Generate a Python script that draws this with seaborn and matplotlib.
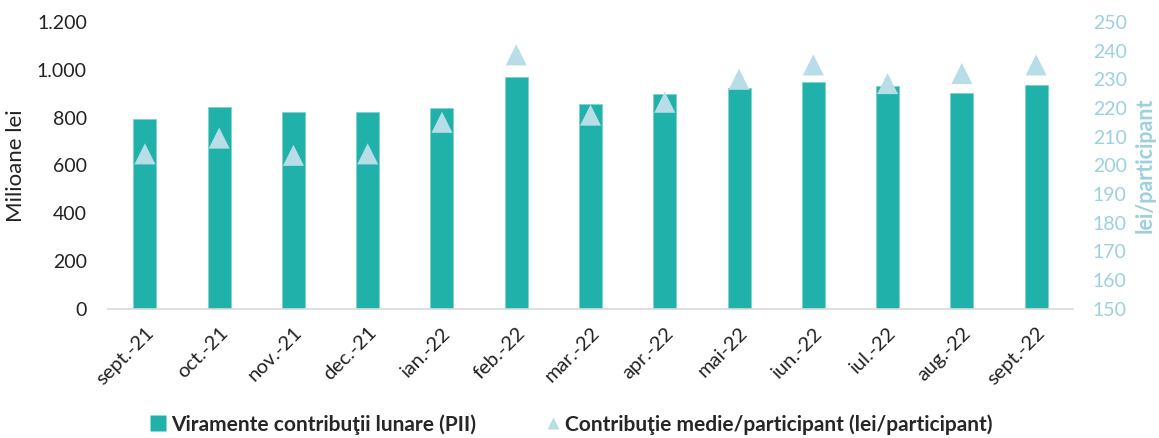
import numpy as np
import pandas as pd
import seaborn as sns
import matplotlib.pyplot as plt
from matplotlib.lines import Line2D
from matplotlib.ticker import FuncFormatter, FixedLocator

months = ["sept.-21", "oct.-21", "nov.-21", "dec.-21", "ian.-22", "feb.-22", "mar.-22",
          "apr.-22", "mai-22", "iun.-22", "iul.-22", "aug.-22", "sept.-22"]
viramente = [793, 843, 824, 825, 840, 970, 856, 899, 925, 948, 931, 903, 938]
contributie = [204, 209.5, 203.5, 204, 215, 238.5, 217.5, 222, 230, 235, 228.5, 232, 235]

BAR = "#20B2AA"
TRI = "#B7DEE8"
RIGHT = "#9DD0DE"

sns.set_theme(style="white")
plt.rcParams["font.family"] = ["Lato", "DejaVu Sans"]

df = pd.DataFrame({"luna": months, "viramente": viramente, "contributie": contributie})

fig, ax = plt.subplots(figsize=(11.59, 4.38), dpi=100)
fig.subplots_adjust(left=0.093, right=0.926, top=0.95, bottom=0.295)

sns.barplot(data=df, x="luna", y="viramente", color=BAR, width=0.31, ax=ax,
            edgecolor="#7FD3CE", linewidth=0.6, saturation=1)
ax.set_ylim(0, 1200)
ax.set_xlim(-0.5, len(months) - 0.5)
ax.set_yticks(range(0, 1201, 200))
ax.yaxis.set_major_formatter(FuncFormatter(lambda v, p: f"{int(v):,}".replace(",", ".")))
ax.set_ylabel("Milioane lei", fontsize=16, color="#222222", labelpad=8)
ax.set_xlabel("")
ax.tick_params(axis="y", labelsize=14, labelcolor="#222222", length=0, pad=15)
ax.tick_params(axis="x", which="major", labelsize=14.5, labelcolor="#222222", length=0, pad=11)
ax.set_xticks(ax.get_xticks())
ax.set_xticklabels(months, rotation=45, ha="right", rotation_mode="anchor")
ax.xaxis.set_minor_locator(FixedLocator(np.arange(-0.5, len(months), 1)))
ax.tick_params(axis="x", which="minor", length=5, color="#D9D9D9", width=1.2, direction="out")
for s in ["top", "right", "left"]:
    ax.spines[s].set_visible(False)
ax.spines["bottom"].set_color("#D9D9D9")
ax.spines["bottom"].set_linewidth(1.2)

ax2 = ax.twinx()
sns.scatterplot(data=df, x="luna", y="contributie", marker="^", s=230, color=TRI,
                edgecolor="none", ax=ax2, zorder=5)
ax2.set_ylim(150, 250)
ax2.set_yticks(range(150, 251, 10))
ax2.tick_params(axis="y", labelsize=14, labelcolor=RIGHT, length=0, pad=14)
ax2.set_ylabel("lei/participant", fontsize=15.5, fontweight="bold", color=RIGHT, labelpad=6)
for s in ["top", "right", "left", "bottom"]:
    ax2.spines[s].set_visible(False)

handles = [
    Line2D([], [], marker="s", color="none", markerfacecolor=BAR, markeredgecolor="none", markersize=11),
    Line2D([], [], marker="^", color="none", markerfacecolor=TRI, markeredgecolor="none", markersize=9),
]
labels = ["Viramente contribuţii lunare (PII)", "Contribuţie medie/participant (lei/participant)"]
fig.legend(handles, labels, loc="lower center", bbox_to_anchor=(0.492, -0.035), ncol=2, frameon=False,
           prop={"size": 15, "weight": "bold"}, handletextpad=0.1, columnspacing=3.2, handlelength=1)

fig.savefig("out.png", dpi=100)
